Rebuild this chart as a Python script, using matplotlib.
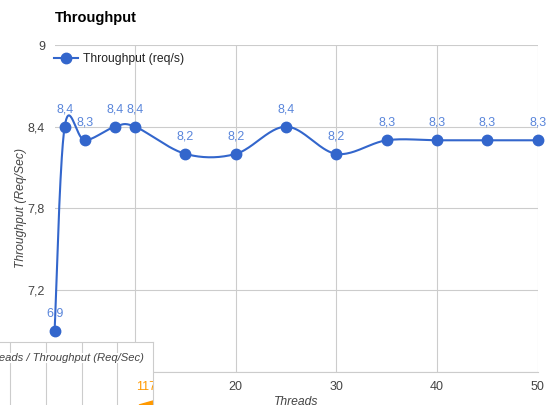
import numpy as np
import matplotlib
matplotlib.use("Agg")
import matplotlib.pyplot as plt
from matplotlib.ticker import FuncFormatter

# ---- data ----
threads = [2, 3, 5, 8, 10, 15, 20, 25, 30, 35, 40, 45, 50]
throughput = [6.9, 8.4, 8.3, 8.4, 8.4, 8.2, 8.2, 8.4, 8.2, 8.3, 8.3, 8.3, 8.3]
x_ticks = [10, 20, 30, 40, 50]
y_ticks = [6.6, 7.2, 7.8, 8.4, 9.0]
title = "Throughput"
series_name = "Throughput (req/s)"
x_label = "Threads"
y_label = "Throughput (Req/Sec)"
overlay_title = "Threads / Throughput (Req/Sec)"
overlay_value = "117"

BLUE = "#3366cc"
LABEL_BLUE = "#5a86db"
GRID = "#cccccc"
TXT = "#444444"
FONT = ["Liberation Sans", "DejaVu Sans"]
plt.rcParams["font.family"] = FONT

W, H = 552, 405
fig = plt.figure(figsize=(W / 100, H / 100), dpi=100)

L, R, T, B = 54.6, 537.7, 45.0, 371.7
ax = fig.add_axes([L / W, (H - B) / H, (R - L) / W, (B - T) / H])
ax.set_xlim(2, 50)
ax.set_ylim(6.6, 9.0)
ax.set_xticks(x_ticks)
ax.set_yticks(y_ticks)
ax.yaxis.set_major_formatter(FuncFormatter(lambda v, p: ("%g" % round(v, 1)).replace(".", ",")))
ax.grid(True, color=GRID, linewidth=0.8)
ax.set_axisbelow(True)
ax.tick_params(length=0, labelsize=9, colors=TXT)
ax.tick_params(axis="x", pad=7)
ax.tick_params(axis="y", pad=7)
for s in ["left", "top", "right"]:
    ax.spines[s].set_visible(False)
ax.spines["bottom"].set_color(GRID)
ax.spines["bottom"].set_linewidth(0.8)

ax.set_xlabel(x_label, fontstyle="italic", fontsize=8.7, color=TXT, labelpad=2)
ax.set_ylabel(y_label, fontstyle="italic", fontsize=8.7, color=TXT, labelpad=0.5)

# smooth curve (Catmull-Rom in display space)
pts = ax.transData.transform(np.column_stack([threads, throughput]))
n = len(pts)
curve = []
for i in range(n - 1):
    p0 = pts[max(i - 1, 0)]
    p1 = pts[i]
    p2 = pts[i + 1]
    p3 = pts[min(i + 2, n - 1)]
    c1 = p1 + (p2 - p0) / 6.0
    c2 = p2 - (p3 - p1) / 6.0
    t = np.linspace(0, 1, 40)[:, None]
    seg = (1 - t) ** 3 * p1 + 3 * (1 - t) ** 2 * t * c1 + 3 * (1 - t) * t ** 2 * c2 + t ** 3 * p2
    curve.append(seg if i == 0 else seg[1:])
curve = ax.transData.inverted().transform(np.vstack(curve))
ax.plot(curve[:, 0], curve[:, 1], color=BLUE, linewidth=1.5, zorder=3, clip_on=False)
ax.plot(threads, throughput, "o", color=BLUE, markersize=7.5, zorder=4, clip_on=False)

for xv, yv in zip(threads, throughput):
    ax.annotate(("%.1f" % yv).replace(".", ","), (xv, yv), xytext=(0, 12.5),
                textcoords="offset points", ha="center", va="center",
                fontsize=9, color=LABEL_BLUE, zorder=5)

# legend
leg_line, = ax.plot([], [], "-o", color=BLUE, markersize=7.5, linewidth=1.5)
ax.legend([leg_line], [series_name], loc="upper left", bbox_to_anchor=(-0.002, 0.975),
          frameon=False, fontsize=8.7, handlelength=2.0, handletextpad=0.45,
          borderaxespad=0.0, borderpad=0.0, labelcolor="#222222")

fig.text(L / W, 1 - 18 / H, title, fontsize=10.5, fontweight="bold", color="#000000",
         ha="left", va="center")

# overlay of another chart in the bottom-left corner
OW, OT = 152.5, 341.5
ov = fig.add_axes([0, 0, OW / W, (H - OT) / H], zorder=10)
ov.set_facecolor("white")
ov.set_xlim(0, OW)
ov.set_ylim(0, H - OT)
ov.set_xticks([])
ov.set_yticks([])
for s in ["left", "bottom"]:
    ov.spines[s].set_visible(False)
for s in ["top", "right"]:
    ov.spines[s].set_color(GRID)
    ov.spines[s].set_linewidth(0.8)
for gx in [10, 45.7, 81.7, 116.7]:
    ov.axvline(gx, color=GRID, linewidth=0.8, zorder=1)
ov.text(144, H - 358, overlay_title, fontstyle="italic", fontsize=8.1, color=TXT,
        ha="right", va="center", clip_on=True, zorder=3,
        bbox=dict(facecolor="white", edgecolor="none", pad=0))
ov.text(136, H - 387, overlay_value, fontsize=9, color="#ff9900", ha="left", va="center",
        clip_on=True, zorder=3)
ov.fill([139, 153, 153], [0, 4, 0], color="#ff9900", zorder=2, clip_on=True)

fig.savefig("out.png", dpi=100)
